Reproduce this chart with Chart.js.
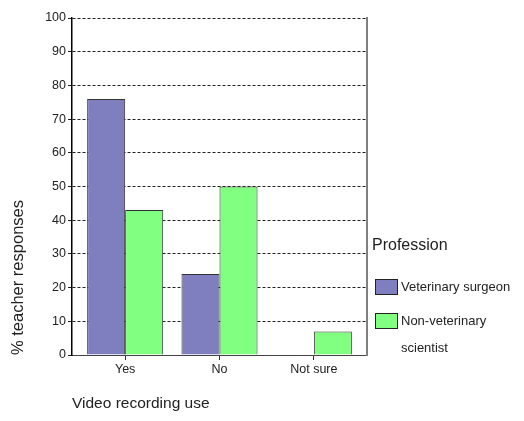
<!DOCTYPE html>
<html>
<head>
<meta charset="utf-8">
<script src="https://cdn.jsdelivr.net/npm/chart.js@4"></script>
<style>
  html, body { margin: 0; padding: 0; background: #fff; }
  #wrap { width: 524px; height: 421px; }
</style>
</head>
<body>
<div id="wrap"><canvas id="myBarChart"></canvas></div>
<script>
const categories = ["Yes", "No", "Not sure"];
const vetSurgeon = [76, 24, 0];
const nonVetScientist = [43, 50, 7];
const yTicks = [0, 10, 20, 30, 40, 50, 60, 70, 80, 90, 100];

const FONT = "'Liberation Sans', Arial, sans-serif";

// the categories sit a little inside the plot frame in the original
const insetCategories = {
  id: "insetCategories",
  afterLayout(chart) {
    const x = chart.scales.x;
    x._startPixel += 6;
    x._endPixel -= 6;
    x._length = x._endPixel - x._startPixel;
  },
};

// legend drawn by hand so the second label can wrap like the original
const sideLegend = {
  id: "sideLegend",
  afterDraw(chart) {
    const ctx = chart.ctx;
    const ds = chart.data.datasets;
    ctx.save();
    ctx.fillStyle = "#222";
    ctx.textBaseline = "middle";
    ctx.textAlign = "left";
    ctx.font = "16px " + FONT;
    ctx.fillText("Profession", 372, 246);
    const rows = [
      { y: 279, lines: ["Veterinary surgeon"] },
      { y: 313, lines: ["Non-veterinary", "scientist"] },
    ];
    ctx.font = "13px " + FONT;
    rows.forEach((r, i) => {
      ctx.fillStyle = ds[i].backgroundColor;
      ctx.fillRect(375, r.y, 22, 15);
      ctx.strokeStyle = "#222";
      ctx.lineWidth = 1;
      ctx.strokeRect(375.5, r.y + 0.5, 22, 15);
      ctx.fillStyle = "#222";
      r.lines.forEach((t, j) => ctx.fillText(t, 401, r.y + 8 + j * 27));
    });
    ctx.restore();
  },
};

const ctx = document.getElementById("myBarChart").getContext("2d");
const myBarChart = new Chart(ctx, {
  type: "bar",
  data: {
    labels: categories,
    datasets: [
      {
        label: "Veterinary surgeon",
        data: vetSurgeon,
        backgroundColor: "#7f7fbf",
        borderColor: "#333",
        borderWidth: 1,
        categoryPercentage: 0.806,
        barPercentage: 1.0,
      },
      {
        label: "Non-veterinary scientist",
        data: nonVetScientist,
        backgroundColor: "#80ff80",
        borderColor: "#333",
        borderWidth: 1,
        categoryPercentage: 0.806,
        barPercentage: 1.0,
      },
    ],
  },
  options: {
    responsive: true,
    maintainAspectRatio: false,
    animation: false,
    layout: { padding: { top: 18, right: 157, left: 0, bottom: 0 } },
    plugins: {
      legend: { display: false },
      tooltip: { enabled: false },
    },
    scales: {
      x: {
        afterFit(scale) { scale.height = 66; },
        grid: {
          offset: false,
          drawOnChartArea: false,
          tickLength: 5,
          tickColor: "#333",
        },
        border: { color: "#444", width: 1 },
        ticks: { color: "#222", font: { family: FONT, size: 12.5 }, padding: 2 },
        title: {
          display: true,
          text: "Video recording use",
          align: "start",
          color: "#222",
          font: { family: FONT, size: 15.5 },
          padding: { bottom: 8 },
        },
      },
      y: {
        min: 0,
        max: 100,
        afterFit(scale) { scale.width = 72; },
        afterBuildTicks(scale) { scale.ticks = yTicks.map((v) => ({ value: v })); },
        grid: {
          color: "#222",
          tickBorderDash: [],
          tickColor: "#222",
          tickLength: 4,
        },
        border: { color: "#000", width: 1.5, dash: [3, 2] },
        ticks: { color: "#222", font: { family: FONT, size: 12.5 }, padding: 2 },
        title: {
          display: true,
          text: "% teacher responses",
          align: "start",
          color: "#222",
          font: { family: FONT, size: 16.5 },
          padding: { top: 9 },
        },
      },
      y2: {
        position: "right",
        min: 0,
        max: 100,
        afterFit(scale) { scale.width = 0; },
        grid: { drawOnChartArea: false, drawTicks: false },
        ticks: { display: false },
        border: { color: "#808080", width: 2 },
      },
    },
  },
  plugins: [insetCategories, sideLegend],
});
</script>
</body>
</html>
